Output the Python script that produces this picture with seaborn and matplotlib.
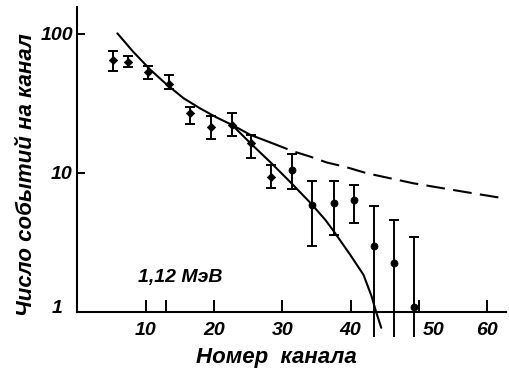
import matplotlib
matplotlib.use("Agg")
import matplotlib.pyplot as plt
import seaborn as sns

# Measured spectrum: channel number, counts per channel and error-bar limits
channels = [5.2, 7.3, 10.3, 13.3, 16.4, 19.5, 22.6, 25.4, 28.4, 31.4, 34.3, 37.5, 40.5, 43.4, 46.4, 49.3]
counts = [65, 63, 53, 43.5, 27, 21.5, 22, 16.4, 9.3, 10.5, 5.9, 6.1, 6.4, 3.0, 2.26, 1.09]
err_low = [54, 58, 47.5, 40.5, 22.5, 17.5, 18.5, 12.8, 7.8, 7.7, 3.0, 3.6, 4.35, 0.66, 0.66, 0.66]
err_high = [76, 69.5, 59, 51, 29.7, 25.7, 27, 18.8, 11.4, 13.6, 8.7, 8.7, 8.2, 5.8, 4.6, 3.45]

# Calculated spectrum (solid curve)
fit_ch = [5.8, 8.1, 10.6, 13.0, 15.5, 17.9, 20.4, 22.6, 25.3, 28.2, 31.1, 34.1, 36.3, 37.5,
          39.9, 41.9, 43.1, 43.75, 44.5]
fit_val = [101, 74.6, 55.5, 43.4, 34.5, 29.2, 25.0, 22.2, 16.4, 12.0, 8.66, 6.1, 4.6, 3.83,
           2.6, 1.85, 1.29, 1.0, 0.77]

# Upper branch of the calculated spectrum (dashed continuation)
tail_ch = [22.6, 25.3, 28.2, 31.6, 34.1, 36.5, 39.4, 42.4, 49.2, 56.5, 62.4]
tail_val = [22.2, 18.8, 16.6, 14.3, 13.1, 11.9, 11.0, 9.95, 8.43, 7.34, 6.58]

x_ticks = [10, 20, 30, 40, 50, 60]
x_tick_labels = ["10", "20", "30", "40", "", "60"]
y_ticks = [1, 10, 100]
y_tick_labels = ["", "10", "100"]

sns.set_style("ticks")
plt.rcParams["font.family"] = ["Liberation Sans", "DejaVu Sans"]
plt.rcParams["font.weight"] = "bold"
plt.rcParams["font.style"] = "italic"

fig = plt.figure(figsize=(5.10, 3.72), dpi=100)
ax = fig.add_axes([0.151, 0.1613, 0.8412, 0.8207])
ax.set_yscale("log")
ax.set_xlim(-0.12, 62.8)
ax.set_ylim(1, 157)

lw = 1.5
# solid curve through the data
sns.lineplot(x=fit_ch, y=fit_val, ax=ax, color="black", lw=lw, sort=False,
             estimator=None, legend=False)
ax.lines[-1].set_clip_on(False)
ax.lines[-1].set_solid_joinstyle("round")
# upper branch: short solid part, then dashed
sns.lineplot(x=tail_ch[:3], y=tail_val[:3], ax=ax, color="black", lw=lw, sort=False,
             estimator=None, legend=False)
sns.lineplot(x=tail_ch[2:], y=tail_val[2:], ax=ax, color="black", lw=lw, sort=False,
             estimator=None, legend=False)
ax.lines[-1].set_dashes((9, 4))

# error bars: the last three run below the axis and have no lower cap
n_in = 13
for sl, clip in ((slice(0, n_in), True), (slice(n_in, None), False)):
    c = counts[sl]
    lo = [v - l for v, l in zip(c, err_low[sl])]
    hi = [h - v for v, h in zip(c, err_high[sl])]
    eb = ax.errorbar(channels[sl], c, yerr=[lo, hi], fmt="none", ecolor="black",
                     elinewidth=1.4, capsize=3.4, capthick=1.4)
    for art in eb.lines[1] + eb.lines[2]:
        art.set_clip_on(clip)
    if not clip:
        eb.lines[1][0].set_visible(False)

sns.scatterplot(x=channels[:9], y=counts[:9], ax=ax, marker="D", s=18, color="black",
                edgecolor="black", linewidth=0.5, legend=False, zorder=5)
sns.scatterplot(x=channels[9:], y=counts[9:], ax=ax, marker="o", s=26, color="black",
                edgecolor="black", linewidth=0.5, legend=False, zorder=5, clip_on=False)

# axes styling
for side in ("top", "right"):
    ax.spines[side].set_visible(False)
for side in ("left", "bottom"):
    ax.spines[side].set_linewidth(1.5)
    ax.spines[side].set_color("black")

ax.set_xticks(x_ticks)
ax.set_xticklabels(x_tick_labels)
ax.set_xticks([13], minor=True)
ax.set_yticks(y_ticks)
ax.set_yticklabels(y_tick_labels)
ax.yaxis.set_minor_locator(matplotlib.ticker.NullLocator())
ax.tick_params(axis="x", which="both", direction="in", length=9, width=1.4, pad=7,
               labelsize=14, colors="black")
ax.tick_params(axis="y", which="both", direction="in", length=6, width=1.4, pad=3,
               labelsize=14, colors="black")

font = dict(fontweight="bold", fontstyle="italic", color="black")
ax.annotate("50", xy=(52.2, 0), xycoords=("data", "axes fraction"), xytext=(0, -7),
            textcoords="offset points", ha="center", va="top", fontsize=14, **font)
ax.annotate("1", xy=(0, 1), xycoords=("axes fraction", "data"), xytext=(-14, 3),
            textcoords="offset pixels", ha="right", va="center", fontsize=14, **font)

ax.text(15.06, 1.77, "1,12 МэВ", ha="center", va="center", fontsize=14, **font)

fig.text(27 / 510, 1 - 175 / 372, "Число событий на канал", rotation=90,
         ha="center", va="center", fontsize=16, **font)
fig.text(276 / 510, 1 - 357 / 372, "Номер  канала", ha="center", va="center",
         fontsize=16, **font)

fig.savefig("out.png", dpi=100, facecolor="white")
